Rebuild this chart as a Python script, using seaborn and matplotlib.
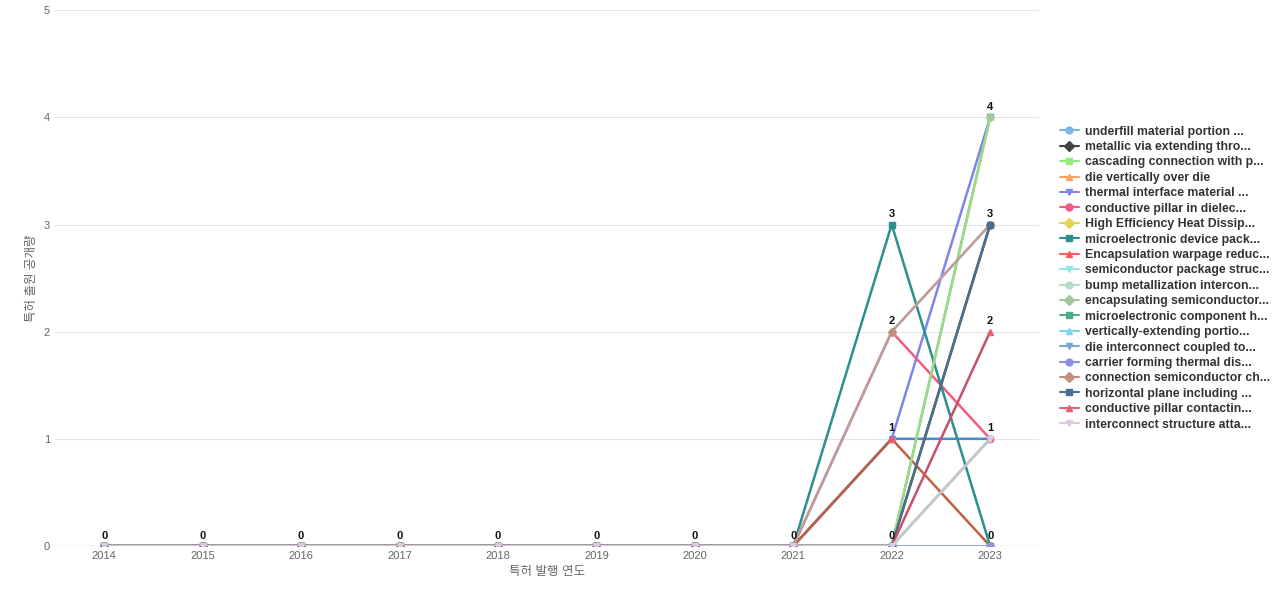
import matplotlib
matplotlib.use("Agg")
import matplotlib.pyplot as plt
import seaborn as sns
import pandas as pd

years = list(range(2014, 2024))
names = ["underfill material portion ...", "metallic via extending thro...", "cascading connection with p...",
         "die vertically over die", "thermal interface material ...", "conductive pillar in dielec...",
         "High Efficiency Heat Dissip...", "microelectronic device pack...", "Encapsulation warpage reduc...",
         "semiconductor package struc...", "bump metallization intercon...", "encapsulating semiconductor...",
         "microelectronic component h...", "vertically-extending portio...", "die interconnect coupled to...",
         "carrier forming thermal dis...", "connection semiconductor ch...", "horizontal plane including ...",
         "conductive pillar contactin...", "interconnect structure atta..."]
colors = ["#7cb5ec", "#434348", "#90ed7d", "#f7a35c", "#8085e9", "#f15c80", "#e4d354", "#2b908f",
          "#f45b5b", "#91e8e1", "#b5dec9", "#a3c99a", "#4bab8f", "#7dd3e8", "#7aa6d6", "#8a8fe0",
          "#c0907a", "#4a6f8a", "#e86070", "#e0c8e0"]
markers = ["o", "D", "s", "^", "v", "o", "D", "s", "^", "v", "o", "D", "s", "^", "v", "o", "D", "s", "^", "v"]
v2022 = [1, 0, 0, 0, 1, 2, 0, 3, 1, 0, 2, 0, 0, 0, 0, 0, 2, 0, 0, 0]
v2023 = [1, 3, 4, 0, 4, 1, 0, 0, 0, 0, 3, 4, 0, 0, 1, 0, 3, 3, 2, 1]
line_colors = {"microelectronic device pack...": "#2b908f", "metallic via extending thro...": "#5a5a5a",
               "Encapsulation warpage reduc...": "#c0603f", "conductive pillar contactin...": "#c8506a",
               "interconnect structure atta...": "#c8c8c8", "connection semiconductor ch...": "#c09a9a",
               "bump metallization intercon...": "#c0e0d0", "underfill material portion ...": "#4a88c8",
               "encapsulating semiconductor...": "#a0d890", "cascading connection with p...": "#60d050"}

rows = []
for i, n in enumerate(names):
    for y in years:
        v = v2022[i] if y == 2022 else v2023[i] if y == 2023 else 0
        rows.append((n, y, v))
df = pd.DataFrame(rows, columns=["name", "year", "count"])

sns.set_style("white")
plt.rcParams['font.family'] = ['Liberation Sans', 'Noto Sans CJK KR', 'DejaVu Sans']
fig, ax = plt.subplots(figsize=(12.8, 6), dpi=100)
fig.subplots_adjust(left=0.043, right=0.812, top=0.983, bottom=0.09)
for i, n in enumerate(names):
    d = df[df.name == n]
    sns.lineplot(data=d, x="year", y="count", ax=ax, color=line_colors.get(n, colors[i]), lw=1.8,
                 legend=False)
    ax.plot(d.year, d["count"], ls="none", marker=markers[i], color=colors[i], ms=4.5)
    ax.plot([], [], color=colors[i], marker=markers[i], ms=5, lw=1.5, label=n)
for y in years:
    for v in sorted(set(df[df.year == y]["count"])):
        ax.text(y, v + 0.05, str(v), ha="center", va="bottom", fontsize=8, fontweight="bold", color="#111")
ax.set_xlim(2013.5, 2023.5)
ax.set_ylim(0, 5)
ax.set_yticks(range(6))
ax.set_xticks(years)
ax.tick_params(labelsize=8, colors="#666", length=0)
ax.grid(axis="y", color="#e6e6e6")
for s in ax.spines.values():
    s.set_visible(False)
ax.axhline(0, color="#ccd6eb", lw=1)
ax.set_xlabel("특허 발행 연도", fontsize=9, color="#666")
ax.set_ylabel("특허 출원 공개량", fontsize=9, color="#666")
leg = ax.legend(loc="center left", bbox_to_anchor=(1.01, 0.5), frameon=False, fontsize=8.8,
                handlelength=1.5, labelspacing=0.28, handletextpad=0.5)
for t in leg.get_texts():
    t.set_fontweight("bold"); t.set_color("#333")
fig.savefig("out.png")
